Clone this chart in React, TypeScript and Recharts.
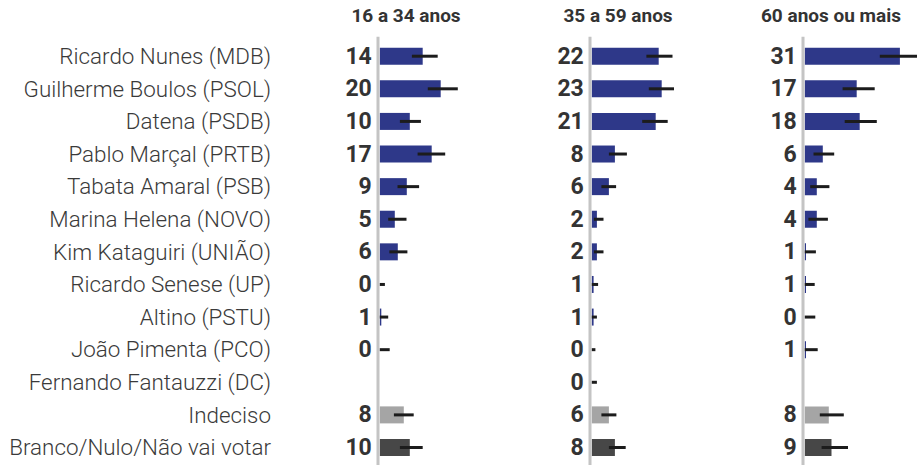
import { BarChart, Bar, XAxis, YAxis, ErrorBar, LabelList, Cell, ReferenceLine } from "recharts";

const categories = [
  "Ricardo Nunes (MDB)",
  "Guilherme Boulos (PSOL)",
  "Datena (PSDB)",
  "Pablo Marçal (PRTB)",
  "Tabata Amaral (PSB)",
  "Marina Helena (NOVO)",
  "Kim Kataguiri (UNIÃO)",
  "Ricardo Senese (UP)",
  "Altino (PSTU)",
  "João Pimenta (PCO)",
  "Fernando Fantauzzi (DC)",
  "Indeciso",
  "Branco/Nulo/Não vai votar"
];

// 16 a 34 anos
const youngLabels = [14, 20, 10, 17, 9, 5, 6, 0, 1, 0, null, 8, 10];
const youngValues = [14.3, 20.3, 10, 17.3, 9, 5, 6, 0, 0.5, 0, null, 8, 10];
const youngLow = [10.7, 16, 6.7, 12.6, 5.9, 2.8, 3.2, 0, 0, 0, null, 4.7, 6.7];
const youngHigh = [19.3, 26, 13.7, 21.8, 13.1, 8.9, 9.2, 1.7, 2.8, 3.3, null, 11.3, 14.3];

// 35 a 59 anos
const adultLabels = [22, 23, 21, 8, 6, 2, 2, 1, 1, 0, 0, 6, 8];
const adultValues = [22.3, 23.3, 21.3, 7.7, 5.7, 1.7, 1.7, 0.6, 0.6, 0, 0, 5.7, 7.7];
const adultLow = [18.2, 19, 16.8, 5.7, 3.2, 0.7, 0.7, 0, 0, 0, 0, 3.2, 5.7];
const adultHigh = [26.9, 27.4, 25.3, 11.7, 8.1, 3.9, 3.9, 2.1, 1.7, 1.2, 1.7, 8.2, 11.3];

// 60 anos ou mais
const seniorLabels = [31, 17, 18, 6, 4, 4, 1, 1, 0, 1, null, 8, 9];
const seniorValues = [31.7, 17.3, 18.3, 6, 4, 4, 0.4, 0.4, 0, 0.4, null, 8, 8.9];
const seniorLow = [25, 12.6, 13.3, 2.9, 1.8, 1.2, 0, 0, 0, 0, null, 5, 5.6];
const seniorHigh = [38, 23.3, 24, 9.8, 8.2, 7.7, 3.7, 3.3, 3.5, 4.3, null, 13, 14.4];

const FONT = "Roboto, 'Noto Sans', sans-serif";
const PX_PER_UNIT = 3;
const ZERO_PAD = 0.6;

const buildRows = (labels, values, low, high) =>
  categories.map((name, i) => ({
    name,
    label: labels[i],
    value: values[i],
    err: values[i] == null ? null : [values[i] - low[i], high[i] - values[i]]
  }));

const groups = [
  { title: "16 a 34 anos", axisX: 378, plotWidth: 150, data: buildRows(youngLabels, youngValues, youngLow, youngHigh) },
  { title: "35 a 59 anos", axisX: 590, plotWidth: 150, data: buildRows(adultLabels, adultValues, adultLow, adultHigh) },
  { title: "60 anos ou mais", axisX: 803, plotWidth: 114, data: buildRows(seniorLabels, seniorValues, seniorLow, seniorHigh) }
];

const barColor = (i: number) => (i === 11 ? "#a5a5a5" : i === 12 ? "#474747" : "#2e3889");

function NameTick(props: any) {
  const { y, payload } = props;
  return (
    <text x={271} y={y} textAnchor="end" dominantBaseline="central" fill="#3a3a3a" fontSize={22.4} fontWeight={300} fontFamily={FONT}>
      {payload.value}
    </text>
  );
}

function ValueLabel(props: any) {
  const { x, y, height, value } = props;
  if (value == null) return null;
  return (
    <text x={x - 8} y={y + height / 2} textAnchor="end" dominantBaseline="central" fill="#333" fontSize={23} fontWeight={700} fontFamily={FONT}>
      {value}
    </text>
  );
}

function Panel({ group, first }: any) {
  const labelSpace = first ? group.axisX : 60;
  const width = labelSpace + group.plotWidth;
  const left = group.axisX - labelSpace;
  return (
    <div style={{ position: "absolute", left, top: 0 }}>
      <BarChart
        width={width}
        height={465}
        data={group.data}
        layout="vertical"
        margin={{ top: 36.7, right: 0, bottom: 0, left: first ? 0 : labelSpace }}
        barSize={17}
      >
        <XAxis type="number" hide domain={[-ZERO_PAD, -ZERO_PAD + group.plotWidth / PX_PER_UNIT]} allowDataOverflow />
        <YAxis
          type="category"
          dataKey="name"
          hide={!first}
          width={first ? group.axisX : 0}
          axisLine={false}
          tickLine={false}
          interval={0}
          tick={<NameTick />}
          padding={{ top: 3, bottom: 1.4 }}
        />
        <ReferenceLine x={-ZERO_PAD} stroke="#c4c4c4" strokeWidth={3} />
        <Bar dataKey="value" isAnimationActive={false} minPointSize={0.01}>
          {group.data.map((_, i) => (
            <Cell key={i} fill={barColor(i)} />
          ))}
          <ErrorBar dataKey="err" direction="x" width={0} stroke="#1c1c1c" strokeWidth={3} />
          <LabelList dataKey="label" content={<ValueLabel />} />
        </Bar>
      </BarChart>
      <div
        style={{
          position: "absolute",
          left: labelSpace + 28 - 100,
          top: 4,
          width: 200,
          textAlign: "center",
          fontFamily: FONT,
          fontWeight: 700,
          fontSize: 19,
          color: "#333"
        }}
      >
        {group.title}
      </div>
    </div>
  );
}

export default function App() {
  return (
    <div style={{ position: "absolute", left: 0, top: 0, width: 917, height: 465, overflow: "hidden", background: "#fff" }}>
      {groups.map((g, i) => (
        <Panel key={g.title} group={g} first={i === 0} />
      ))}
    </div>
  );
}
